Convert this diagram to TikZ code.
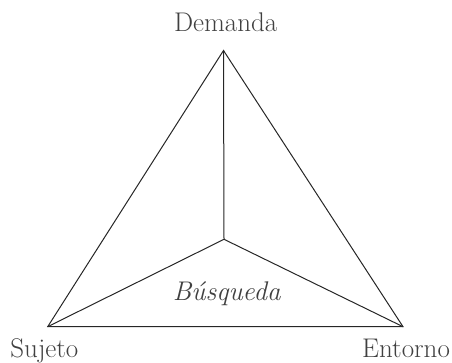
\documentclass[tikz,border=0pt]{standalone}
\usepackage{fontspec}
\begin{document}
\begin{tikzpicture}[x=1pt,y=1pt]
			\def \fs{\fontsize{27}{30}\selectfont}
			\useasboundingbox (0, 0) rectangle (452, 362);
			\tikzset{edge/.style={draw=black!85, line width=1pt, line join=miter}}
			\tikzset{lab/.style={anchor=base, inner sep=0pt, text=black!75, font=\fs}}
			\coordinate (demanda) at (223.5, 311.5);
			\coordinate (sujeto) at (47.7, 35.3);
			\coordinate (entorno) at (403, 35.3);
			\coordinate (centro) at (224, 122.7);
			\draw[edge] (demanda) -- (sujeto) -- (entorno) -- cycle;
			\draw[edge] (centro) -- (demanda);
			\draw[edge] (centro) -- (sujeto);
			\draw[edge] (centro) -- (entorno);
			\node[lab] (ldemanda) at (225.7, 330.5) {Demanda};
			\node[lab] (lsujeto) at (44.4, 5) {Sujeto};
			\node[lab] (lentorno) at (406, 5) {Entorno};
			\node[lab, font=\fs\itshape] (lbusqueda) at (226.7, 62) {Búsqueda};
		\end{tikzpicture}
\end{document}
